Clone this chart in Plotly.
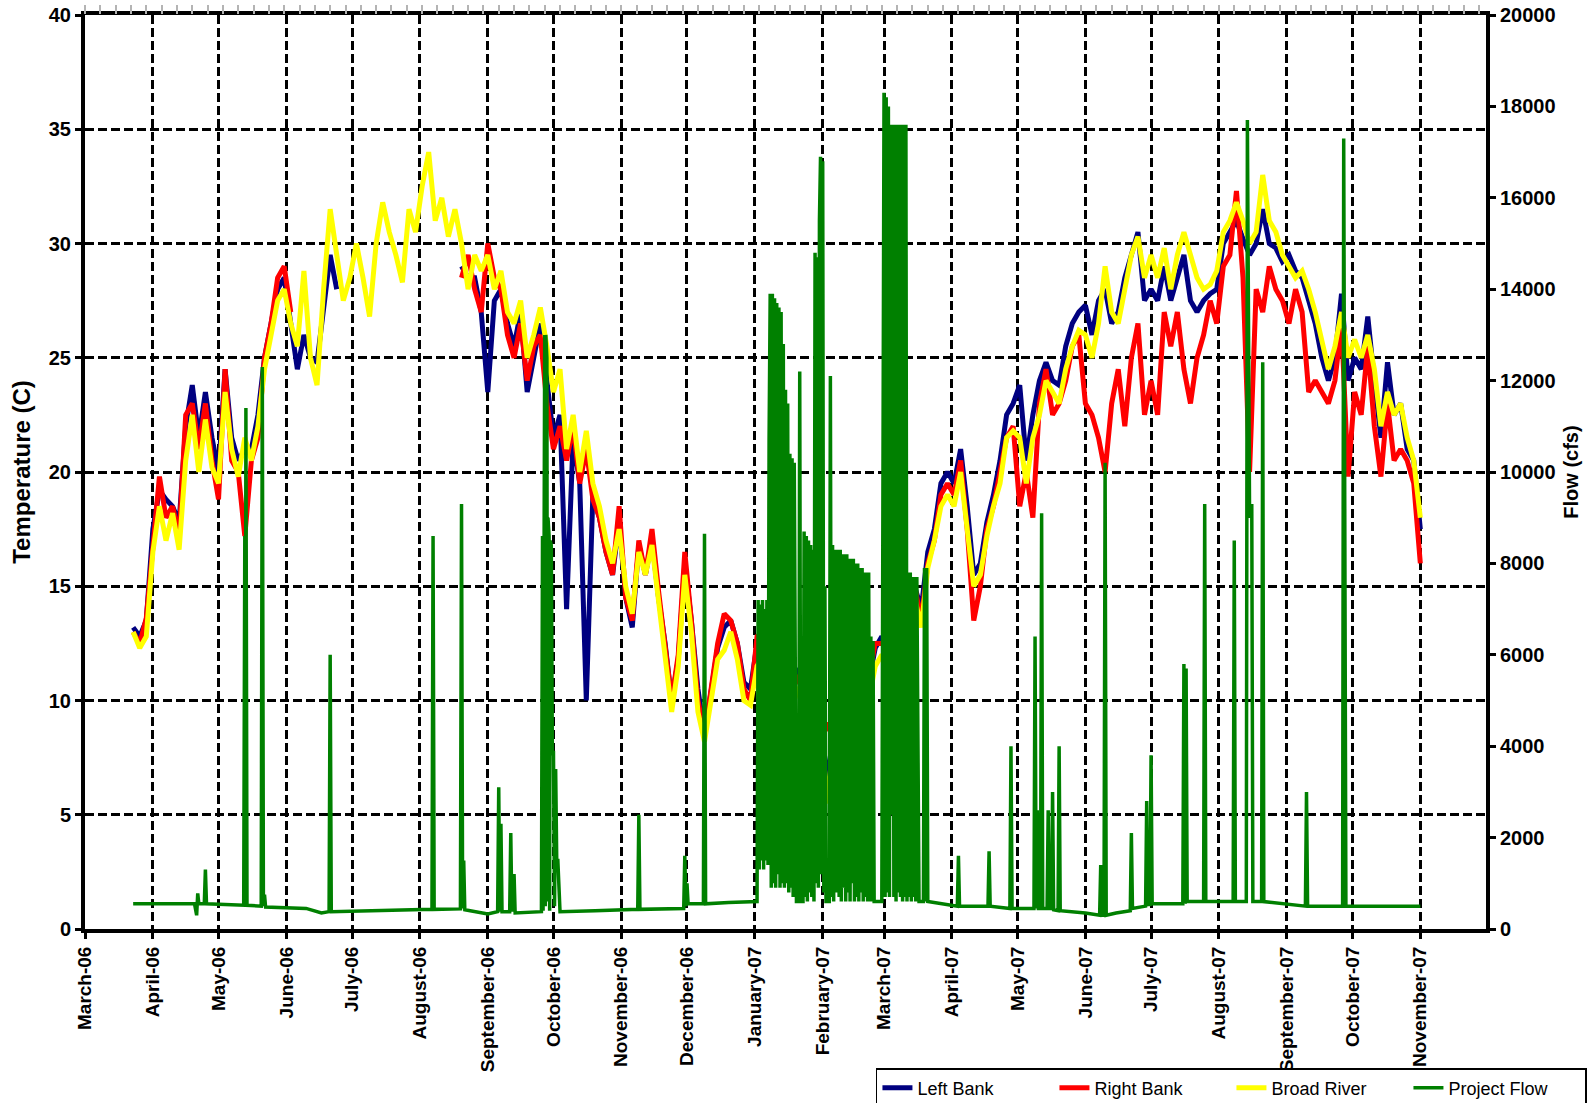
import pandas as pd
import plotly.graph_objects as go

# ---------------- data ----------------
temp_start = "2006-03-23"   # temperature readings every 3 days from here
temp_step = "3D"

broad_river = [
    13.0, 12.3, 12.8, 16.5, 18.5, 17.0, 18.2, 16.6, 20.5, 22.5,
    20.0, 22.3, 20.2, 19.5, 23.5, 21.0, 19.8, 21.5, 20.5, 22.0,
    24.5, 26.0, 27.5, 28.0, 26.5, 25.5, 28.8, 25.0, 23.8, 28.0,
    31.5, 29.5, 27.5, 28.5, 30.0, 28.5, 26.8, 30.0, 31.8, 30.5,
    29.5, 28.3, 31.5, 30.5, 32.5, 34.0, 31.0, 32.0, 30.3, 31.5,
    30.0, 28.0, 29.5, 28.8, 29.5, 28.0, 28.8, 27.0, 26.5, 27.5,
    25.0, 26.0, 27.2, 25.5, 23.5, 24.5, 21.0, 22.5, 20.0, 21.8,
    19.5, 18.5, 17.0, 16.0, 17.5, 15.0, 13.8, 16.5, 15.5, 16.8,
    14.5, 12.0, 9.5, 11.5, 15.5, 13.0, 9.5, 8.2, 10.0, 11.8,
    12.2, 13.0, 11.8, 10.0, 9.8, 11.5, 12.0, 10.8, 11.5, 10.3,
    11.0, 10.5, 9.8, 9.0, 8.5, 7.5, 5.5, 7.0, 8.5, 8.0,
    9.5, 10.5, 10.0, 11.5, 12.0, 11.5, 12.0, 12.5, 13.5, 14.5,
    13.2, 15.8, 17.0, 18.5, 19.0, 18.5, 20.0, 17.5, 15.0, 15.5,
    17.2, 18.5, 19.5, 21.5, 21.8, 21.5, 19.5, 21.5, 22.5, 24.0,
    23.5, 23.0, 24.5, 25.5, 26.2, 26.0, 25.0, 26.5, 29.0, 27.0,
    26.5, 28.0, 29.5, 30.3, 28.5, 29.5, 28.5, 29.8, 28.0, 29.5,
    30.5, 29.5, 28.5, 28.0, 28.2, 28.8, 30.5, 31.0, 31.8, 31.0,
    30.0, 30.5, 33.0, 31.0, 30.5, 29.5, 29.0, 28.5, 28.8, 28.0,
    27.0, 25.8, 24.5, 25.5, 27.0, 25.0, 25.8, 25.0, 26.0, 24.5,
    22.0, 23.5, 22.5, 23.0, 21.5, 20.5, 18.0,
]

left_bank = [
    13.2, 12.8, 13.5, 17.5, 19.2, 18.8, 18.5, 17.8, 22.0, 23.8,
    21.5, 23.5, 21.5, 20.0, 24.5, 21.5, 20.5, 21.0, 21.0, 22.5,
    25.0, 26.5, 28.0, 28.5, 26.5, 24.5, 26.0, 25.0, 24.8, 27.0,
    29.5, 28.0, None, None, None, None, None, None, None, None,
    None, None, None, None, None, None, None, None, None, None,
    29.0, 28.5, 28.5, 27.0, 23.5, 27.5, 28.0, 26.5, 25.5, 27.0,
    23.5, 25.0, 26.5, 24.0, 21.5, 22.5, 14.0, 21.5, 19.5, 10.0,
    19.0, 18.0, 16.5, 15.5, 17.8, 14.5, 13.2, 16.8, 15.5, 17.0,
    14.5, 12.5, 10.0, 11.8, 16.0, 13.5, 10.5, 8.5, 10.5, 12.3,
    13.2, 13.5, 12.5, 10.8, 10.5, 12.5, 12.8, 12.0, 12.3, 11.5,
    11.8, 11.3, 10.8, 9.5, 9.0, 8.0, 6.5, 7.5, 8.8, 8.5,
    10.0, 11.0, 10.8, 12.3, 12.8, 12.0, 12.5, 12.8, 14.0, 15.0,
    14.0, 16.5, 17.5, 19.5, 20.0, 19.5, 21.0, 18.5, 15.5, 16.0,
    17.8, 19.0, 20.5, 22.5, 23.0, 23.8, 20.5, 22.5, 24.0, 24.8,
    24.0, 23.8, 25.5, 26.5, 27.0, 27.3, 26.0, 27.5, 28.0, 26.5,
    27.0, 28.5, 29.5, 30.5, 27.5, 28.0, 27.5, 29.0, 27.5, 28.5,
    29.5, 27.5, 27.0, 27.5, 27.8, 28.0, 30.0, 30.5, 31.0, 30.2,
    29.5, 30.0, 31.5, 30.0, 29.8, 29.2, 29.5, 28.8, 28.5, 27.5,
    26.5, 25.0, 24.0, 25.0, 27.8, 24.0, 25.0, 24.5, 26.8, 24.0,
    21.5, 24.8, 22.5, 23.0, 21.0, 20.5, 17.5,
]

right_bank = [
    13.0, 12.5, 13.6, 17.0, 19.8, 18.0, 18.5, 17.2, 22.5, 23.0,
    21.0, 23.0, 20.5, 18.8, 24.5, 20.5, 20.0, 17.2, 20.5, 21.5,
    25.0, 26.5, 28.5, 29.0, 27.0, None, None, None, None, None,
    None, None, None, None, None, None, None, None, None, None,
    None, None, None, None, None, None, None, None, None, None,
    28.5, 29.5, 28.0, 27.0, 30.0, 28.5, 28.0, 26.0, 25.0, 26.5,
    24.0, 25.5, 26.0, 23.0, 21.0, 22.0, 20.5, 22.0, 19.5, 21.0,
    18.8, 18.0, 16.5, 15.5, 18.5, 14.5, 13.5, 17.0, 15.5, 17.5,
    14.8, 12.5, 10.0, 12.0, 16.5, 13.5, 10.0, 8.5, 10.5, 12.5,
    13.8, 13.5, 12.5, 10.5, 10.0, 12.8, 13.0, 11.8, 12.5, 11.2,
    11.5, 11.0, 10.5, 9.5, 9.0, 8.5, 9.0, 8.5, 9.5, 9.0,
    10.5, 11.2, 11.0, 12.5, 12.5, 12.5, 12.3, 12.5, 13.5, 15.0,
    13.5, 16.0, 17.0, 19.0, 19.5, 19.0, 20.5, 17.5, 13.5, 15.0,
    17.5, 18.5, 20.0, 21.5, 22.0, 18.5, 20.0, 18.0, 23.0, 24.5,
    22.5, 23.0, 24.0, 25.5, 26.0, 23.0, 22.5, 21.5, 20.0, 23.0,
    24.5, 22.0, 25.0, 26.5, 22.5, 24.0, 22.5, 27.0, 25.5, 27.0,
    24.5, 23.0, 25.0, 26.0, 27.5, 26.5, 29.0, 29.5, 32.3, 28.5,
    20.0, 28.0, 27.0, 29.0, 28.0, 27.5, 26.5, 28.0, 27.0, 23.5,
    24.0, 23.5, 23.0, 24.0, 26.5, 19.8, 23.5, 22.5, 25.5, 22.0,
    19.8, 23.0, 20.5, 21.0, 20.5, 19.5, 16.0,
]

# project flow (cfs): (time, value) readings
flow_points = [
    ("2006-03-23", 550), ("2006-04-20", 560), ("2006-04-21", 300), ("2006-04-21 12:00", 780),
    ("2006-04-22", 550), ("2006-04-24 12:00", 550), ("2006-04-25", 1300), ("2006-04-25 12:00", 550),
    ("2006-05-12 12:00", 520), ("2006-05-13", 8600), ("2006-05-13 06:00", 500),
    ("2006-05-13 12:00", 11400), ("2006-05-14", 520),
    ("2006-05-20 12:00", 500), ("2006-05-21", 12300), ("2006-05-21 12:00", 500),
    ("2006-05-22", 750), ("2006-05-22 12:00", 480),
    ("2006-06-10", 450), ("2006-06-17", 350), ("2006-06-20 12:00", 380), ("2006-06-21", 6000),
    ("2006-06-21 12:00", 380), ("2006-07-15", 400),
    ("2006-08-06 12:00", 430), ("2006-08-07", 8600), ("2006-08-07 12:00", 430),
    ("2006-08-19 12:00", 440), ("2006-08-20", 9300), ("2006-08-20 12:00", 450),
    ("2006-08-21", 1500), ("2006-08-21 12:00", 420),
    ("2006-09-01", 330), ("2006-09-05 12:00", 380), ("2006-09-06", 3100), ("2006-09-06 12:00", 380),
    ("2006-09-07", 2300), ("2006-09-07 12:00", 380), ("2006-09-11", 380), ("2006-09-11 12:00", 2100),
    ("2006-09-12", 380), ("2006-09-13", 1200), ("2006-09-13 12:00", 350),
    ("2006-09-25 12:00", 380), ("2006-09-26", 8600), ("2006-09-26 06:00", 400),
    ("2006-09-26 12:00", 8600), ("2006-09-27", 13000), ("2006-09-27 06:00", 500),
    ("2006-09-27 12:00", 13000), ("2006-09-28", 12500), ("2006-09-28 06:00", 600),
    ("2006-09-28 12:00", 9000), ("2006-09-29", 8600), ("2006-09-29 06:00", 400),
    ("2006-09-29 12:00", 8500), ("2006-09-30", 8400), ("2006-09-30 12:00", 3800),
    ("2006-10-01", 3900), ("2006-10-01 12:00", 500), ("2006-10-02", 3500),
    ("2006-10-02 12:00", 1500), ("2006-10-03", 1500), ("2006-10-04", 380),
    ("2006-10-20", 400), ("2006-11-08 12:00", 430), ("2006-11-09", 2500), ("2006-11-09 12:00", 430),
    ("2006-11-29 12:00", 450), ("2006-11-30", 1600), ("2006-11-30 12:00", 500),
    ("2006-12-01", 1000), ("2006-12-01 12:00", 550),
    ("2006-12-08 12:00", 550), ("2006-12-09", 8650), ("2006-12-09 12:00", 550), ("2006-12-20", 580),
    ("2007-01-02", 600), ("2007-01-02 12:00", 7200), ("2007-01-03", 1300),
    ("2007-01-03 12:00", 7100), ("2007-01-04", 1500), ("2007-01-04 12:00", 7200),
    ("2007-01-05", 1300), ("2007-01-05 12:00", 7000), ("2007-01-06", 1500),
    ("2007-01-06 12:00", 7200), ("2007-01-07", 1400), ("2007-01-07 12:00", 10700),
    ("2007-01-08", 13900), ("2007-01-08 12:00", 900), ("2007-01-09", 13900),
    ("2007-01-09 12:00", 1000), ("2007-01-10", 13800), ("2007-01-10 12:00", 900),
    ("2007-01-11", 13700), ("2007-01-11 12:00", 1200), ("2007-01-12", 13600),
    ("2007-01-12 12:00", 900), ("2007-01-13", 13500), ("2007-01-13 12:00", 1000),
    ("2007-01-14", 12800), ("2007-01-14 12:00", 900), ("2007-01-15", 11800),
    ("2007-01-15 12:00", 1000), ("2007-01-16", 11500), ("2007-01-16 12:00", 800),
    ("2007-01-17", 10400), ("2007-01-17 12:00", 900), ("2007-01-18", 10300),
    ("2007-01-18 12:00", 700), ("2007-01-19", 10200), ("2007-01-20", 600),
    ("2007-01-21", 600), ("2007-01-21 12:00", 12200), ("2007-01-22", 600),
    ("2007-01-23", 600), ("2007-01-23 12:00", 8700), ("2007-01-24", 700),
    ("2007-01-24 12:00", 8600), ("2007-01-25", 600), ("2007-01-25 12:00", 8500),
    ("2007-01-26", 800), ("2007-01-26 12:00", 8400), ("2007-01-27", 700),
    ("2007-01-27 12:00", 8300), ("2007-01-28", 600), ("2007-01-28 12:00", 14800),
    ("2007-01-29", 1000), ("2007-01-29 12:00", 14700), ("2007-01-30", 900),
    ("2007-01-30 12:00", 15500), ("2007-01-31", 16900), ("2007-01-31 12:00", 1200),
    ("2007-02-01", 16800), ("2007-02-01 12:00", 800), ("2007-02-02", 7500),
    ("2007-02-02 12:00", 600), ("2007-02-04", 600), ("2007-02-04 12:00", 12100),
    ("2007-02-05", 700), ("2007-02-05 12:00", 8400), ("2007-02-06", 600),
    ("2007-02-06 12:00", 8300), ("2007-02-07", 800), ("2007-02-08", 8300),
    ("2007-02-08 12:00", 700), ("2007-02-09", 8300), ("2007-02-09 12:00", 600),
    ("2007-02-10", 8200), ("2007-02-10 12:00", 900), ("2007-02-11", 8200),
    ("2007-02-11 12:00", 600), ("2007-02-12", 8200), ("2007-02-12 12:00", 800),
    ("2007-02-13", 8100), ("2007-02-13 12:00", 600), ("2007-02-14", 8100),
    ("2007-02-14 12:00", 1000), ("2007-02-15", 8100), ("2007-02-15 12:00", 600),
    ("2007-02-16", 8000), ("2007-02-16 12:00", 700), ("2007-02-17", 8000),
    ("2007-02-17 12:00", 600), ("2007-02-18", 7900), ("2007-02-18 12:00", 800),
    ("2007-02-19", 7900), ("2007-02-19 12:00", 600), ("2007-02-20", 7800),
    ("2007-02-20 12:00", 700), ("2007-02-21", 7800), ("2007-02-21 12:00", 600),
    ("2007-02-22", 7800), ("2007-02-22 12:00", 600), ("2007-02-23", 6400),
    ("2007-02-23 12:00", 600), ("2007-02-24", 6300), ("2007-02-24 12:00", 600),
    ("2007-02-28", 600), ("2007-03-01", 18300), ("2007-03-01 12:00", 700),
    ("2007-03-02", 18200), ("2007-03-02 12:00", 800), ("2007-03-03", 18000),
    ("2007-03-03 12:00", 700), ("2007-03-04", 17600), ("2007-03-04 12:00", 2500),
    ("2007-03-05", 17600), ("2007-03-05 12:00", 700), ("2007-03-06", 17600),
    ("2007-03-06 12:00", 600), ("2007-03-07", 17600), ("2007-03-07 12:00", 800),
    ("2007-03-08", 17600), ("2007-03-08 12:00", 700), ("2007-03-09", 17600),
    ("2007-03-09 12:00", 600), ("2007-03-10", 17600), ("2007-03-10 12:00", 700),
    ("2007-03-11", 17600), ("2007-03-11 12:00", 600), ("2007-03-12", 7800),
    ("2007-03-12 12:00", 700), ("2007-03-13", 7800), ("2007-03-13 12:00", 600),
    ("2007-03-14", 7700), ("2007-03-14 12:00", 700), ("2007-03-15", 7700),
    ("2007-03-15 12:00", 600), ("2007-03-16", 7700), ("2007-03-17", 600),
    ("2007-03-19", 600), ("2007-03-19 12:00", 7900), ("2007-03-20", 600),
    ("2007-03-20 12:00", 7900), ("2007-03-21", 600),
    ("2007-04-03 12:00", 500), ("2007-04-04", 1600), ("2007-04-04 12:00", 500),
    ("2007-04-17 12:00", 500), ("2007-04-18", 1700), ("2007-04-18 12:00", 500),
    ("2007-04-27 12:00", 450), ("2007-04-28", 4000), ("2007-04-28 12:00", 450),
    ("2007-05-08 12:00", 450), ("2007-05-09", 6400), ("2007-05-09 12:00", 450),
    ("2007-05-10", 2600), ("2007-05-10 12:00", 450),
    ("2007-05-11 12:00", 450), ("2007-05-12", 9100), ("2007-05-12 12:00", 450),
    ("2007-05-14 12:00", 450), ("2007-05-15", 2600), ("2007-05-15 12:00", 450),
    ("2007-05-16 12:00", 450), ("2007-05-17", 3000), ("2007-05-17 12:00", 420),
    ("2007-05-19 12:00", 400), ("2007-05-20", 4000), ("2007-05-20 12:00", 400),
    ("2007-06-01", 350), ("2007-06-07 12:00", 300), ("2007-06-08", 1400), ("2007-06-08 12:00", 300),
    ("2007-06-09 12:00", 300), ("2007-06-10", 10200), ("2007-06-10 12:00", 300),
    ("2007-06-15", 350), ("2007-06-21 12:00", 400), ("2007-06-22", 2100), ("2007-06-22 12:00", 450),
    ("2007-06-28 12:00", 500), ("2007-06-29", 2800), ("2007-06-29 12:00", 500),
    ("2007-06-30", 1500), ("2007-06-30 12:00", 500), ("2007-07-01", 3800),
    ("2007-07-01 12:00", 550), ("2007-07-10", 550),
    ("2007-07-15 12:00", 550), ("2007-07-16", 5800), ("2007-07-16 12:00", 550),
    ("2007-07-17", 5700), ("2007-07-17 12:00", 600),
    ("2007-07-25", 600), ("2007-07-25 12:00", 9300), ("2007-07-26", 600),
    ("2007-08-07 12:00", 600), ("2007-08-08", 8500), ("2007-08-08 12:00", 600),
    ("2007-08-13 12:00", 600), ("2007-08-14", 17700), ("2007-08-15", 9000),
    ("2007-08-16", 9300), ("2007-08-16 12:00", 600),
    ("2007-08-20 12:00", 600), ("2007-08-21", 12400), ("2007-08-21 12:00", 600),
    ("2007-09-09 12:00", 500), ("2007-09-10", 3000), ("2007-09-10 12:00", 500),
    ("2007-09-26 12:00", 500), ("2007-09-27", 17300), ("2007-09-27 12:00", 4200),
    ("2007-09-28", 500), ("2007-11-01", 500),
]

month_ticks = [
    "2006-03-01", "2006-04-01", "2006-05-01", "2006-06-01", "2006-07-01", "2006-08-01",
    "2006-09-01", "2006-10-01", "2006-11-01", "2006-12-01", "2007-01-01", "2007-02-01",
    "2007-03-01", "2007-04-01", "2007-05-01", "2007-06-01", "2007-07-01", "2007-08-01",
    "2007-09-01", "2007-10-01", "2007-11-01",
]
month_labels = [
    "March-06", "April-06", "May-06", "June-06", "July-06", "August-06",
    "September-06", "October-06", "November-06", "December-06", "January-07", "February-07",
    "March-07", "April-07", "May-07", "June-07", "July-07", "August-07",
    "September-07", "October-07", "November-07",
]
temp_ticks = [0, 5, 10, 15, 20, 25, 30, 35, 40]
flow_ticks = [0, 2000, 4000, 6000, 8000, 10000, 12000, 14000, 16000, 18000, 20000]

# ---------------- figure ----------------
temp_dates = pd.date_range(temp_start, periods=len(broad_river), freq=temp_step)
flow_dates = pd.to_datetime([t for t, _ in flow_points], format="mixed")
flow_cfs = [v for _, v in flow_points]
x_range = ["2006-03-01", "2007-12-01"]

FONT = "Liberation Sans, Arial, sans-serif"
b = lambda s: f"<b>{s}</b>"
GRID_DASH = "9px,4px"
TEMP_W = 5

fig = go.Figure()
fig.add_trace(go.Scatter(x=temp_dates, y=left_bank, name="Left Bank", mode="lines",
                         line=dict(color="#000080", width=TEMP_W)))
fig.add_trace(go.Scatter(x=temp_dates, y=right_bank, name="Right Bank", mode="lines",
                         line=dict(color="#FF0000", width=TEMP_W)))
fig.add_trace(go.Scatter(x=temp_dates, y=broad_river, name="Broad River", mode="lines",
                         line=dict(color="#FFFF00", width=TEMP_W)))
fig.add_trace(go.Scatter(x=flow_dates, y=flow_cfs, name="Project Flow", mode="lines",
                         yaxis="y2", line=dict(color="#008000", width=3.5)))
# empty trace that only activates the top axis (grey weekly ticks)
fig.add_trace(go.Scatter(x=x_range, y=[None, None], xaxis="x2", yaxis="y",
                         mode="lines", showlegend=False, hoverinfo="skip"))

axis_common = dict(showline=True, linecolor="black", linewidth=4, zeroline=False,
                   ticks="outside", ticklen=6, tickwidth=3, tickcolor="black",
                   automargin=False)

fig.update_layout(
    width=1593, height=1103,
    margin=dict(l=85, r=107, t=15, b=174, autoexpand=False),
    paper_bgcolor="white", plot_bgcolor="white",
    font=dict(family=FONT, color="black"),
    xaxis=dict(
        type="date", range=x_range,
        tickmode="array", tickvals=month_ticks, ticktext=[b(s) for s in month_labels],
        tickangle=-90, tickfont=dict(family=FONT, size=19, color="black"),
        showgrid=True, gridcolor="black", gridwidth=3, griddash=GRID_DASH,
        mirror=True, **axis_common,
    ),
    xaxis2=dict(
        type="date", range=x_range, overlaying="x", side="top", anchor="y",
        tickmode="linear", tick0="2006-03-01", dtick=7 * 86400000,
        ticks="outside", ticklen=9, tickwidth=2, tickcolor="#b4b4b4",
        showticklabels=False, showgrid=False, showline=False, zeroline=False,
        automargin=False,
    ),
    yaxis=dict(
        range=[0, 40], tickmode="array", tickvals=temp_ticks,
        ticktext=[b(v) for v in temp_ticks],
        tickfont=dict(family=FONT, size=20, color="black"),
        title=dict(text=b("Temperature (C)"), font=dict(family=FONT, size=24, color="black"),
                   standoff=12),
        showgrid=True, gridcolor="black", gridwidth=3, griddash=GRID_DASH,
        mirror=True, **axis_common,
    ),
    yaxis2=dict(
        range=[0, 20000], tickmode="array", tickvals=flow_ticks,
        ticktext=[b(v) for v in flow_ticks], overlaying="y", side="right",
        tickfont=dict(family=FONT, size=20, color="black"),
        title=dict(text=b("Flow (cfs)"), font=dict(family=FONT, size=20, color="black"),
                   standoff=10),
        showgrid=False, **axis_common,
    ),
    legend=dict(
        orientation="h", xref="container", yref="container",
        x=0.9962, xanchor="right", y=0.0317, yanchor="top",
        bordercolor="black", borderwidth=1.5, bgcolor="white",
        font=dict(family=FONT, size=18, color="black"),
        entrywidth=132, entrywidthmode="pixels", tracegroupgap=0,
    ),
    showlegend=True,
)

# remove the browser's default 8px page margin so the figure starts at the window corner
fig.write_html("out.html", config={"displayModeBar": False},
               post_script="document.body.style.margin = '0px';")
